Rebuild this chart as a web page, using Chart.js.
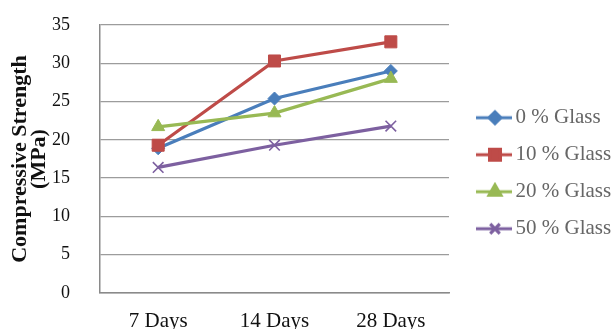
<!DOCTYPE html>
<html>
<head>
<meta charset="utf-8">
<script src="https://cdn.jsdelivr.net/npm/chart.js@4/dist/chart.umd.min.js"></script>
<style>
    html, body { margin: 0; padding: 0; background: #fff; }
    #wrap { width: 613px; height: 329px; position: relative; }
</style>
</head>
<body>
<div id="wrap"><canvas id="chart"></canvas></div>
<script>
    /* ---------- data ---------- */
    const ages = ['7 Days', '14 Days', '28 Days'];
    const glass0 = [18.9, 25.4, 29.0];
    const glass10 = [19.3, 30.3, 32.8];
    const glass20 = [21.7, 23.5, 28.0];
    const glass50 = [16.4, 19.3, 21.8];
    const seriesNames = ['0 % Glass', '10 % Glass', '20 % Glass', '50 % Glass'];
    const yTicks = [0, 5, 10, 15, 20, 25, 30, 35];

    const SERIF = "'Liberation Serif', 'Times New Roman', serif";
    const LEGEND_W = 164;

    const styles = [
        { color: '#4A7EBB', point: 'rectRot', radius: 6.5, bw: 1 },
        { color: '#BE4B48', point: 'rect', radius: 8.5, bw: 1 },
        { color: '#98B954', point: 'triangle', radius: 7.5, bw: 1 },
        { color: '#7D60A0', point: 'crossRot', radius: 7.5, bw: 1.6 },
    ];
    const values = [glass0, glass10, glass20, glass50];

    // little line + marker swatch for the legend
    function swatch(st) {
        const c = document.createElement('canvas');
        c.width = 54; c.height = 20;
        const g = c.getContext('2d');
        g.strokeStyle = st.color;
        g.lineWidth = 3.2;
        g.beginPath();
        g.moveTo(18, 10);
        g.lineTo(54, 10);
        g.stroke();
        g.fillStyle = st.color;
        g.strokeStyle = st.color;
        Chart.helpers.drawPoint(g, { pointStyle: st.point, rotation: 0, radius: st.radius * 0.9, borderWidth: st.bw }, 37, 10);
        return c;
    }

    // keep the legend column at a fixed width so the plot ends where the reference does
    const legendWidth = {
        id: 'legendWidth',
        afterInit(chart) {
            const lg = chart.legend;
            if (!lg) return;
            const fit = lg.fit.bind(lg);
            lg.fit = function () {
                fit();
                this.width = LEGEND_W;
            };
        }
    };

    const datasets = values.map((v, i) => ({
        label: seriesNames[i],
        data: v,
        borderColor: styles[i].color,
        backgroundColor: styles[i].color,
        pointBackgroundColor: styles[i].color,
        pointBorderColor: styles[i].color,
        pointStyle: styles[i].point,
        pointRadius: styles[i].radius,
        pointBorderWidth: styles[i].bw,
        borderWidth: 3.2,
        tension: 0,
        order: 4 - i,
    }));

    new Chart(document.getElementById('chart'), {
        type: 'line',
        data: { labels: ages, datasets },
        plugins: [legendWidth],
        options: {
            responsive: true,
            maintainAspectRatio: false,
            animation: false,
            layout: { padding: { top: 25, bottom: 0, left: 0, right: 0 } },
            plugins: {
                tooltip: { enabled: false },
                legend: {
                    position: 'right',
                    align: 'start',
                    title: { display: true, text: ' ', font: { size: 1 }, padding: { top: 65, bottom: 0 } },
                    labels: {
                        usePointStyle: true,
                        pointStyleWidth: 40,
                        padding: 16,
                        color: '#111',
                        font: { family: SERIF, size: 21 },
                        generateLabels: (chart) => chart.data.datasets.map((ds, i) => ({
                            text: ds.label,
                            pointStyle: swatch(styles[i]),
                            fillStyle: ds.borderColor,
                            strokeStyle: ds.borderColor,
                            lineWidth: 0,
                            hidden: false,
                            datasetIndex: i,
                        })),
                    },
                },
            },
            scales: {
                x: {
                    offset: true,
                    grid: { drawOnChartArea: false, drawTicks: false },
                    border: { display: true, color: '#8a8a8a', width: 1.5 },
                    ticks: { padding: 16, color: '#111', font: { family: SERIF, size: 21 } },
                    afterFit: (s) => { s.height = 36; s.paddingLeft = 0; s.paddingRight = 0; },
                },
                y: {
                    min: 0,
                    max: 35,
                    afterBuildTicks: (s) => { s.ticks = yTicks.map(v => ({ value: v })); },
                    grid: { color: '#9c9c9c', lineWidth: 1.3, drawTicks: false },
                    border: { display: true, color: '#8a8a8a', width: 1.5 },
                    ticks: { padding: 30, color: '#111', font: { family: SERIF, size: 18 } },
                    title: {
                        display: true,
                        text: ['Compressive Strength', '(MPa)'],
                        color: '#111',
                        padding: { top: 10.5, bottom: 0 },
                        font: { family: SERIF, size: 22, weight: 'bold', lineHeight: 0.88 },
                    },
                    afterFit: (s) => { s.width = 100; s.paddingTop = 0; s.paddingBottom = 0; },
                },
            },
        },
    });
</script>
</body>
</html>
